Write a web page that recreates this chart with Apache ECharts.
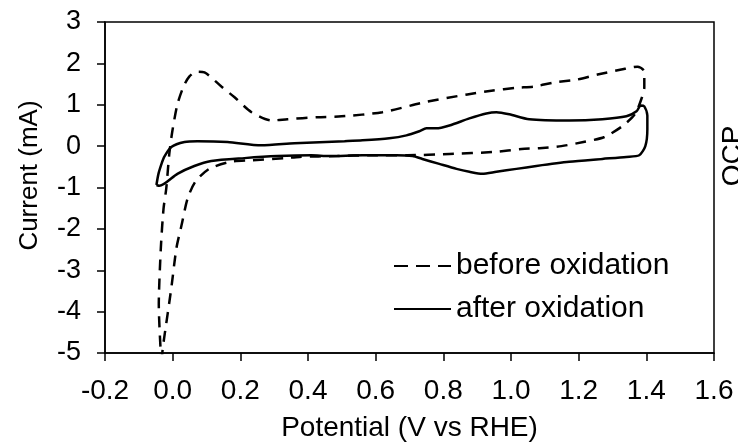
<!DOCTYPE html>
<html>
<head>
<meta charset="utf-8">
<script src="https://cdn.jsdelivr.net/npm/echarts@6/dist/echarts.min.js"></script>
<style>
  html, body { margin: 0; padding: 0; background: #fff; }
  #chart { width: 738px; height: 447px; }
</style>
</head>
<body>
<div id="chart"></div>
<script>
// 氧化前（虚线）：电位 V vs RHE / 电流 mA
const beforeV = [-0.033, -0.041, -0.035, -0.027, -0.019, -0.010, -0.001, 0.014, 0.032, 0.049, 0.070, 0.094, 0.144, 0.183, 0.233, 0.292, 0.339, 0.428, 0.499, 0.62, 0.744, 0.871, 0.942, 1.016, 1.069, 1.128, 1.196, 1.256, 1.326, 1.374, 1.394, 1.394, 1.382, 1.366, 1.332, 1.276, 1.214, 1.149, 1.084, 1.031, 0.951, 0.818, 0.694, 0.581, 0.487, 0.375, 0.33, 0.236, 0.171, 0.108, 0.067, 0.044, 0.026, 0.011, -0.004, -0.025, -0.030, -0.033];
const beforeI = [-5.3, -3.84, -2.47, -1.51, -1.03, -0.19, 0.36, 1.01, 1.44, 1.68, 1.80, 1.78, 1.44, 1.18, 0.82, 0.62, 0.65, 0.70, 0.72, 0.82, 1.06, 1.25, 1.34, 1.41, 1.44, 1.54, 1.61, 1.73, 1.85, 1.92, 1.80, 1.42, 1.06, 0.77, 0.50, 0.22, 0.10, 0.0, -0.05, -0.07, -0.14, -0.19, -0.22, -0.22, -0.24, -0.26, -0.29, -0.34, -0.38, -0.55, -0.86, -1.27, -1.92, -2.47, -3.43, -4.63, -4.94, -5.3];

// 氧化后（实线）
const afterV = [-0.048, -0.042, -0.033, -0.025, -0.004, 0.035, 0.073, 0.162, 0.262, 0.360, 0.508, 0.561, 0.640, 0.691, 0.729, 0.750, 0.779, 0.818, 0.877, 0.927, 0.957, 0.995, 1.054, 1.172, 1.270, 1.341, 1.371, 1.383, 1.394, 1.403, 1.403, 1.397, 1.379, 1.341, 1.270, 1.172, 1.075, 1.016, 0.957, 0.915, 0.877, 0.839, 0.788, 0.738, 0.709, 0.661, 0.561, 0.463, 0.410, 0.309, 0.212, 0.114, 0.064, 0.014, -0.039, -0.048];
const afterI = [-0.94, -0.67, -0.43, -0.26, -0.02, 0.10, 0.12, 0.10, 0.02, 0.07, 0.12, 0.14, 0.19, 0.26, 0.36, 0.43, 0.43, 0.50, 0.67, 0.79, 0.82, 0.77, 0.65, 0.62, 0.65, 0.72, 0.84, 0.98, 0.96, 0.74, 0.41, 0.0, -0.22, -0.26, -0.31, -0.38, -0.48, -0.55, -0.62, -0.67, -0.62, -0.55, -0.43, -0.31, -0.24, -0.22, -0.22, -0.24, -0.22, -0.24, -0.29, -0.36, -0.48, -0.67, -0.96, -0.94];

const seriesNames = ['before oxidation', 'after oxidation'];

const fontFamily = '"Liberation Sans", Arial, sans-serif';
const zip = (xs, ys) => xs.map((x, i) => [x, ys[i]]);

const chart = echarts.init(document.getElementById('chart'));
chart.setOption({
  animation: false,
  backgroundColor: '#fff',
  textStyle: { fontFamily: fontFamily, color: '#000' },
  grid: {
    left: 105, right: 24, top: 22, bottom: 92,
    show: true, borderColor: '#000', borderWidth: 1.5
  },
  legend: {
    orient: 'vertical',
    left: 393, top: 251,
    padding: 0,
    itemWidth: 57, itemHeight: 20, itemGap: 13,
    itemStyle: { opacity: 0 },
    textStyle: { fontSize: 30, color: '#000', fontFamily: fontFamily },
    data: [
      { name: seriesNames[0], lineStyle: { type: [14, 8] } },
      { name: seriesNames[1] }
    ]
  },
  xAxis: {
    type: 'value',
    min: -0.2, max: 1.6, interval: 0.2,
    name: 'Potential (V vs RHE)',
    nameLocation: 'middle', nameGap: 61,
    nameTextStyle: { fontSize: 28, color: '#000' },
    axisLine: { onZero: false, lineStyle: { color: '#000', width: 1.5 } },
    axisTick: { show: true, inside: false, length: 8, lineStyle: { color: '#000', width: 1.5 } },
    axisLabel: { fontSize: 28, color: '#000', margin: 24, formatter: v => v.toFixed(1) },
    splitLine: { show: false }
  },
  yAxis: {
    type: 'value',
    min: -5, max: 3, interval: 1,
    name: 'Current (mA)',
    nameLocation: 'middle', nameGap: 62, nameRotate: 90,
    nameTextStyle: { fontSize: 26, color: '#000', padding: [0, 0, 0, 24] },
    axisLine: { show: true, onZero: false, lineStyle: { color: '#000', width: 1.5 } },
    axisTick: { show: true, inside: false, length: 8, lineStyle: { color: '#000', width: 1.5 } },
    axisLabel: { fontSize: 27, color: '#000', margin: 24 },
    splitLine: { show: false }
  },
  graphic: [{
    type: 'text',
    x: 747, y: 156,
    rotation: Math.PI / 2,
    style: {
      text: 'OCP', fontSize: 28, fontFamily: fontFamily, fill: '#000',
      align: 'center', verticalAlign: 'bottom'
    }
  }],
  series: [
    {
      name: seriesNames[0],
      type: 'line',
      data: zip(beforeV, beforeI),
      symbol: 'none',
      smooth: 0.25,
      clip: true,
      lineStyle: { color: '#000', width: 2.5, type: [11, 8] },
      itemStyle: { color: '#000' }
    },
    {
      name: seriesNames[1],
      type: 'line',
      data: zip(afterV, afterI),
      symbol: 'none',
      smooth: 0.25,
      clip: true,
      lineStyle: { color: '#000', width: 2.5, type: 'solid' },
      itemStyle: { color: '#000' }
    }
  ]
});
</script>
</body>
</html>
